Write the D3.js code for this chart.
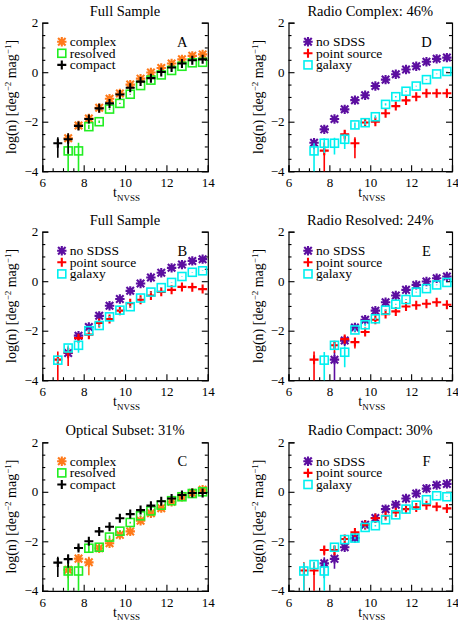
<!DOCTYPE html>
<html><head><meta charset="utf-8">
<script src="https://cdn.jsdelivr.net/npm/d3@7"></script>
<style>
html,body{margin:0;padding:0;background:#fff;}
svg{display:block;}
text{font-family:"Liberation Serif","Times New Roman",serif;fill:#000;}
</style></head>
<body>
<script>
// ---- data ----
const bins = [6.75, 7.25, 7.75, 8.25, 8.75, 9.25, 9.75, 10.25, 10.75, 11.25, 11.75, 12.25, 12.75, 13.25, 13.75];
const xTicks = [6, 8, 10, 12, 14];
const yTicks = [-4, -2, 0, 2];

const titles = ["Full Sample", "Full Sample", "Optical Subset: 31%", "Radio Complex: 46%", "Radio Resolved: 24%", "Radio Compact: 30%"];
const letters = ["A", "B", "C", "D", "E", "F"];
const morphNames = ["complex", "resolved", "compact"];
const optNames = ["no SDSS", "point source", "galaxy"];

// Panel A
const complexA  = [null, -2.67, -2.15, -1.87, -1.44, -1.07, -0.86, -0.50, -0.26, -0.01, 0.17, 0.35, 0.52, 0.66, 0.72];
const resolvedA = [null, -3.18, -3.18, -2.20, -2.00, -1.49, -1.26, -0.89, -0.54, -0.32, -0.11, 0.07, 0.24, 0.38, 0.40];
const compactA  = [-2.87, -2.71, -2.17, -1.89, -1.46, -1.26, -0.90, -0.63, -0.38, -0.24, 0.01, 0.19, 0.35, 0.48, 0.52];
const complexAErr  = [0, 0.35, 0.12, 0.08, 0.06, 0.05, 0.04, 0.03, 0.03, 0.02, 0.02, 0.02, 0.02, 0.02, 0.02];
const resolvedAErr = [0, 1.15, 1.15, 0.2, 0.12, 0.08, 0.06, 0.05, 0.04, 0.03, 0.03, 0.02, 0.02, 0.02, 0.02];
const compactAErr  = [0.74, 0.74, 0.15, 0.1, 0.07, 0.05, 0.04, 0.03, 0.03, 0.02, 0.02, 0.02, 0.02, 0.02, 0.02];

// Panel B
const noSdssB = [null, -2.90, -2.20, -1.85, -1.40, -0.99, -0.72, -0.39, -0.09, 0.15, 0.34, 0.54, 0.67, 0.82, 0.89];
const pointB  = [-3.17, -2.87, -2.30, -2.16, -1.69, -1.53, -1.19, -0.89, -0.75, -0.58, -0.43, -0.35, -0.23, -0.24, -0.32];
const galaxyB = [-3.19, -2.70, -2.59, -2.00, -1.79, -1.44, -1.17, -1.03, -0.68, -0.44, -0.26, -0.05, 0.19, 0.36, 0.42];
const noSdssBErr = [0, 0.4, 0.15, 0.1, 0.07, 0.05, 0.04, 0.03, 0.03, 0.02, 0.02, 0.02, 0.02, 0.02, 0.02];
const pointBErr  = [1.15, 0.72, 0.3, 0.3, 0.12, 0.1, 0.08, 0.06, 0.05, 0.04, 0.04, 0.03, 0.03, 0.03, 0.03];
const galaxyBErr = [0.2, 0.3, 0.5, 0.15, 0.1, 0.08, 0.06, 0.05, 0.04, 0.03, 0.03, 0.02, 0.02, 0.02, 0.02];

// Panel C
const complexC  = [null, -3.15, -2.70, -2.85, -2.28, -2.08, -1.74, -1.60, -1.17, -0.87, -0.66, -0.40, -0.20, -0.05, 0.08];
const resolvedC = [null, -3.20, -3.20, -2.28, -2.24, -1.83, -1.59, -1.24, -0.97, -0.77, -0.54, -0.36, -0.20, -0.07, 0.00];
const compactC  = [-2.86, -2.72, -2.27, -2.00, -1.60, -1.41, -1.07, -0.90, -0.74, -0.56, -0.38, -0.27, -0.13, -0.05, -0.05];
const complexCErr  = [0, 0.55, 0.5, 0.7, 0.25, 0.2, 0.12, 0.1, 0.07, 0.05, 0.04, 0.03, 0.03, 0.03, 0.03];
const resolvedCErr = [0, 1.15, 1.15, 0.3, 0.25, 0.15, 0.1, 0.08, 0.06, 0.05, 0.04, 0.03, 0.03, 0.03, 0.03];
const compactCErr  = [0.74, 0.55, 0.25, 0.15, 0.1, 0.08, 0.06, 0.05, 0.04, 0.04, 0.03, 0.03, 0.03, 0.03, 0.03];

// Panel D
const noSdssD = [null, -2.85, -2.31, -1.89, -1.50, -1.13, -0.93, -0.56, -0.30, -0.08, 0.11, 0.24, 0.42, 0.54, 0.59];
const pointD  = [null, null, -3.17, null, -2.51, -2.87, -2.03, -2.00, -1.66, -1.37, -1.14, -0.99, -0.85, -0.85, -0.85];
const galaxyD = [null, -3.18, -2.87, -2.87, -2.71, -2.13, -2.04, -1.80, -1.30, -0.99, -0.77, -0.56, -0.30, -0.07, 0.03];
const noSdssDErr = [0, 0.45, 0.2, 0.12, 0.08, 0.06, 0.05, 0.04, 0.03, 0.03, 0.02, 0.02, 0.02, 0.02, 0.02];
const pointDErr  = [0, 0, 1.15, 0, 0.45, 0.75, 0.25, 0.2, 0.12, 0.1, 0.08, 0.06, 0.05, 0.05, 0.05];
const galaxyDErr = [0, 1.05, 0.6, 0.65, 0.6, 0.25, 0.2, 0.15, 0.1, 0.07, 0.05, 0.04, 0.03, 0.03, 0.03];

// Panel E
const noSdssE = [null, null, null, -3.17, -2.40, -1.87, -1.56, -1.19, -0.85, -0.58, -0.35, -0.15, -0.01, 0.12, 0.19];
const pointE  = [null, -3.17, null, -2.59, -2.34, -2.46, -2.05, -1.56, -1.33, -1.22, -1.02, -0.97, -0.91, -0.85, -0.95];
const galaxyE = [null, null, -3.19, -2.59, -2.87, -1.97, -1.76, -1.52, -1.17, -0.93, -0.74, -0.44, -0.30, -0.15, -0.05];
const noSdssEErr = [0, 0, 0, 1.15, 0.4, 0.15, 0.1, 0.08, 0.06, 0.05, 0.04, 0.03, 0.03, 0.03, 0.03];
const pointEErr  = [0, 1.15, 0, 0.5, 0.35, 0.45, 0.2, 0.1, 0.08, 0.07, 0.06, 0.05, 0.05, 0.05, 0.05];
const galaxyEErr = [0, 0, 1.15, 0.3, 0.75, 0.15, 0.12, 0.1, 0.07, 0.05, 0.04, 0.03, 0.03, 0.03, 0.03];

// Panel F
const noSdssF = [null, null, -2.89, -2.71, -2.24, -1.87, -1.33, -1.06, -0.70, -0.52, -0.27, -0.07, 0.13, 0.27, 0.32];
const pointF  = [-3.18, -3.18, -2.35, -2.35, -1.91, -1.64, -1.33, -1.07, -0.97, -0.83, -0.70, -0.63, -0.54, -0.60, -0.67];
const galaxyF = [-3.20, -2.94, -3.20, -2.24, -1.93, -1.87, -1.44, -1.37, -1.13, -0.93, -0.70, -0.54, -0.32, -0.16, -0.20];
const noSdssFErr = [0, 0, 0.75, 0.6, 0.2, 0.15, 0.1, 0.07, 0.05, 0.05, 0.04, 0.03, 0.03, 0.03, 0.03];
const pointFErr  = [1.15, 1.15, 0.4, 0.4, 0.15, 0.1, 0.08, 0.07, 0.06, 0.05, 0.05, 0.04, 0.04, 0.04, 0.04];
const galaxyFErr = [1.15, 0.3, 1.15, 0.2, 0.12, 0.1, 0.08, 0.07, 0.06, 0.05, 0.04, 0.03, 0.03, 0.03, 0.03];

// ---- styles ----
const colOrange = "#ff7a1a", colGreen = "#22ee22", colBlack = "#000000";
const colPurple = "#5c0ea0", colRed = "#ff0000", colCyan = "#00f0f0";

const morphStyles = [
  {sym: "asterisk", color: colOrange},
  {sym: "square", color: colGreen},
  {sym: "plus", color: colBlack}
];
const optStyles = [
  {sym: "asterisk", color: colPurple},
  {sym: "plus", color: colRed},
  {sym: "square", color: colCyan}
];

const panelSeries = [
  [[complexA, complexAErr], [resolvedA, resolvedAErr], [compactA, compactAErr]],
  [[noSdssB, noSdssBErr], [pointB, pointBErr], [galaxyB, galaxyBErr]],
  [[complexC, complexCErr], [resolvedC, resolvedCErr], [compactC, compactCErr]],
  [[noSdssD, noSdssDErr], [pointD, pointDErr], [galaxyD, galaxyDErr]],
  [[noSdssE, noSdssEErr], [pointE, pointEErr], [galaxyE, galaxyEErr]],
  [[noSdssF, noSdssFErr], [pointF, pointFErr], [galaxyF, galaxyFErr]]
];

// ---- layout ----
const W = 458, H = 628;
const colX = [42.3, 288.5];
const colW = [165.5, 163.5];
const rowY = [22.7, 231.7, 442.3];
const plotH = 148.5;
const FS = 14;
const TFS = 13;

const svg = d3.select("body").append("svg").attr("width", W).attr("height", H);

function drawSymbol(g, sym, color, cx, cy) {
  if (sym === "plus") {
    const r = 4.5;
    g.append("path").attr("d", `M${cx-r},${cy}H${cx+r}M${cx},${cy-r}V${cy+r}`)
      .attr("stroke", color).attr("stroke-width", 2.1).attr("fill", "none");
  } else if (sym === "asterisk") {
    const r = 4.7, d = r * 0.8;
    g.append("path").attr("d", `M${cx-r},${cy}H${cx+r}M${cx},${cy-r}V${cy+r}M${cx-d},${cy-d}L${cx+d},${cy+d}M${cx-d},${cy+d}L${cx+d},${cy-d}`)
      .attr("stroke", color).attr("stroke-width", 2.1).attr("fill", "none");
  } else {
    const s = 8;
    g.append("rect").attr("x", cx - s/2).attr("y", cy - s/2).attr("width", s).attr("height", s)
      .attr("stroke", color).attr("stroke-width", 1.6).attr("fill", "none");
  }
}

for (let p = 0; p < 6; p++) {
  const col = Math.floor(p / 3), row = p % 3;
  const x0 = colX[col], y0 = rowY[row], plotW = colW[col];
  const g = svg.append("g");
  const x = d3.scaleLinear().domain([6, 14]).range([x0, x0 + plotW]);
  const y = d3.scaleLinear().domain([-4, 2]).range([y0 + plotH, y0]);
  const isMorph = (p === 0 || p === 2);
  const styles = isMorph ? morphStyles : optStyles;
  const names = isMorph ? morphNames : optNames;

  const clipId = "clip" + p;
  svg.append("clipPath").attr("id", clipId).append("rect")
    .attr("x", x0).attr("y", y0 - 2).attr("width", plotW).attr("height", plotH + 2);

  const xMinor = d3.range(6, 14.01, 0.5).filter(v => v % 2 !== 0);
  const yMinor = d3.range(-4, 2.01, 0.5).filter(v => v % 2 !== 0);

  const fmt = d3.format("d");
  g.append("g").attr("transform", `translate(0,${y0 + plotH})`)
    .call(d3.axisBottom(x).tickValues(xTicks).tickSize(-6).tickPadding(7).tickFormat(fmt))
    .call(a => a.selectAll("text").style("font-size", TFS + "px").style("font-family", "Liberation Serif"));
  g.append("g").attr("transform", `translate(0,${y0 + plotH})`)
    .call(d3.axisBottom(x).tickValues(xMinor).tickSize(-3).tickFormat(""))
    .call(a => a.select(".domain").remove());
  g.append("g").attr("transform", `translate(${x0},0)`)
    .call(d3.axisLeft(y).tickValues(yTicks).tickSize(-6).tickPadding(4).tickFormat(fmt))
    .call(a => a.selectAll("text").style("font-size", TFS + "px").style("font-family", "Liberation Serif"));
  g.append("g").attr("transform", `translate(${x0},0)`)
    .call(d3.axisLeft(y).tickValues(yMinor).tickSize(-3).tickFormat(""))
    .call(a => a.select(".domain").remove());
  g.append("g").attr("transform", `translate(${x0 + plotW},0)`)
    .call(d3.axisRight(y).tickValues(yTicks).tickSize(-6).tickFormat(""));
  g.append("g").attr("transform", `translate(${x0 + plotW},0)`)
    .call(d3.axisRight(y).tickValues(yMinor).tickSize(-3).tickFormat(""))
    .call(a => a.select(".domain").remove());
  g.selectAll(".domain").attr("stroke", "#000").attr("stroke-width", 1.2);
  g.selectAll(".tick line").attr("stroke", "#000").attr("stroke-width", 1.1);

  // title
  g.append("text").attr("x", x0 + plotW / 2).attr("y", y0 - 7)
    .attr("text-anchor", "middle").style("font-size", "14.5px").text(titles[p]);
  // x label
  const xl = g.append("text").attr("x", x0 + plotW / 2 - 12).attr("y", y0 + plotH + 26)
    .style("font-size", FS + "px");
  xl.append("tspan").text("t");
  xl.append("tspan").attr("dy", 3.5).style("font-size", "9px").text("NVSS");
  // y label
  const ylx = x0 - 26, yly = y0 + plotH / 2;
  const yl = g.append("text").attr("transform", `translate(${ylx},${yly}) rotate(-90)`)
    .attr("text-anchor", "middle").style("font-size", FS + "px");
  yl.append("tspan").text("log(n) [deg");
  yl.append("tspan").attr("dy", -5).style("font-size", "9px").text("−2");
  yl.append("tspan").attr("dy", 5).text(" mag");
  yl.append("tspan").attr("dy", -5).style("font-size", "9px").text("−1");
  yl.append("tspan").attr("dy", 5).text("]");

  // letter
  g.append("text").attr("x", x0 + plotW - 25.5).attr("y", y0 + 24)
    .attr("text-anchor", "middle").style("font-size", "14.5px").text(letters[p]);

  // legend
  const lx = x0 + 19.5;
  for (let i = 0; i < 3; i++) {
    const ly = y0 + 19 + i * 11.6;
    drawSymbol(g, styles[i].sym, styles[i].color, lx, ly);
    g.append("text").attr("x", lx + 8).attr("y", ly + 4.3).style("font-size", "13.5px").text(names[i]);
  }

  // data
  const dg = g.append("g").attr("clip-path", `url(#${clipId})`);
  panelSeries[p].forEach((ser, si) => {
    const vals = ser[0], errs = ser[1];
    const st = styles[si];
    vals.forEach((v, k) => {
      if (v === null || !errs[k]) return;
      const f = errs[k];
      const hi = v + Math.log10(1 + f);
      const lo = f >= 1 ? -5 : v + Math.log10(1 - f);
      dg.append("line").attr("x1", x(bins[k])).attr("x2", x(bins[k]))
        .attr("y1", y(hi)).attr("y2", y(lo))
        .attr("stroke", st.color).attr("stroke-width", 1.6);
    });
    vals.forEach((v, k) => {
      if (v === null) return;
      drawSymbol(dg, st.sym, st.color, x(bins[k]), y(v));
    });
  });
}
</script>
</body></html>
